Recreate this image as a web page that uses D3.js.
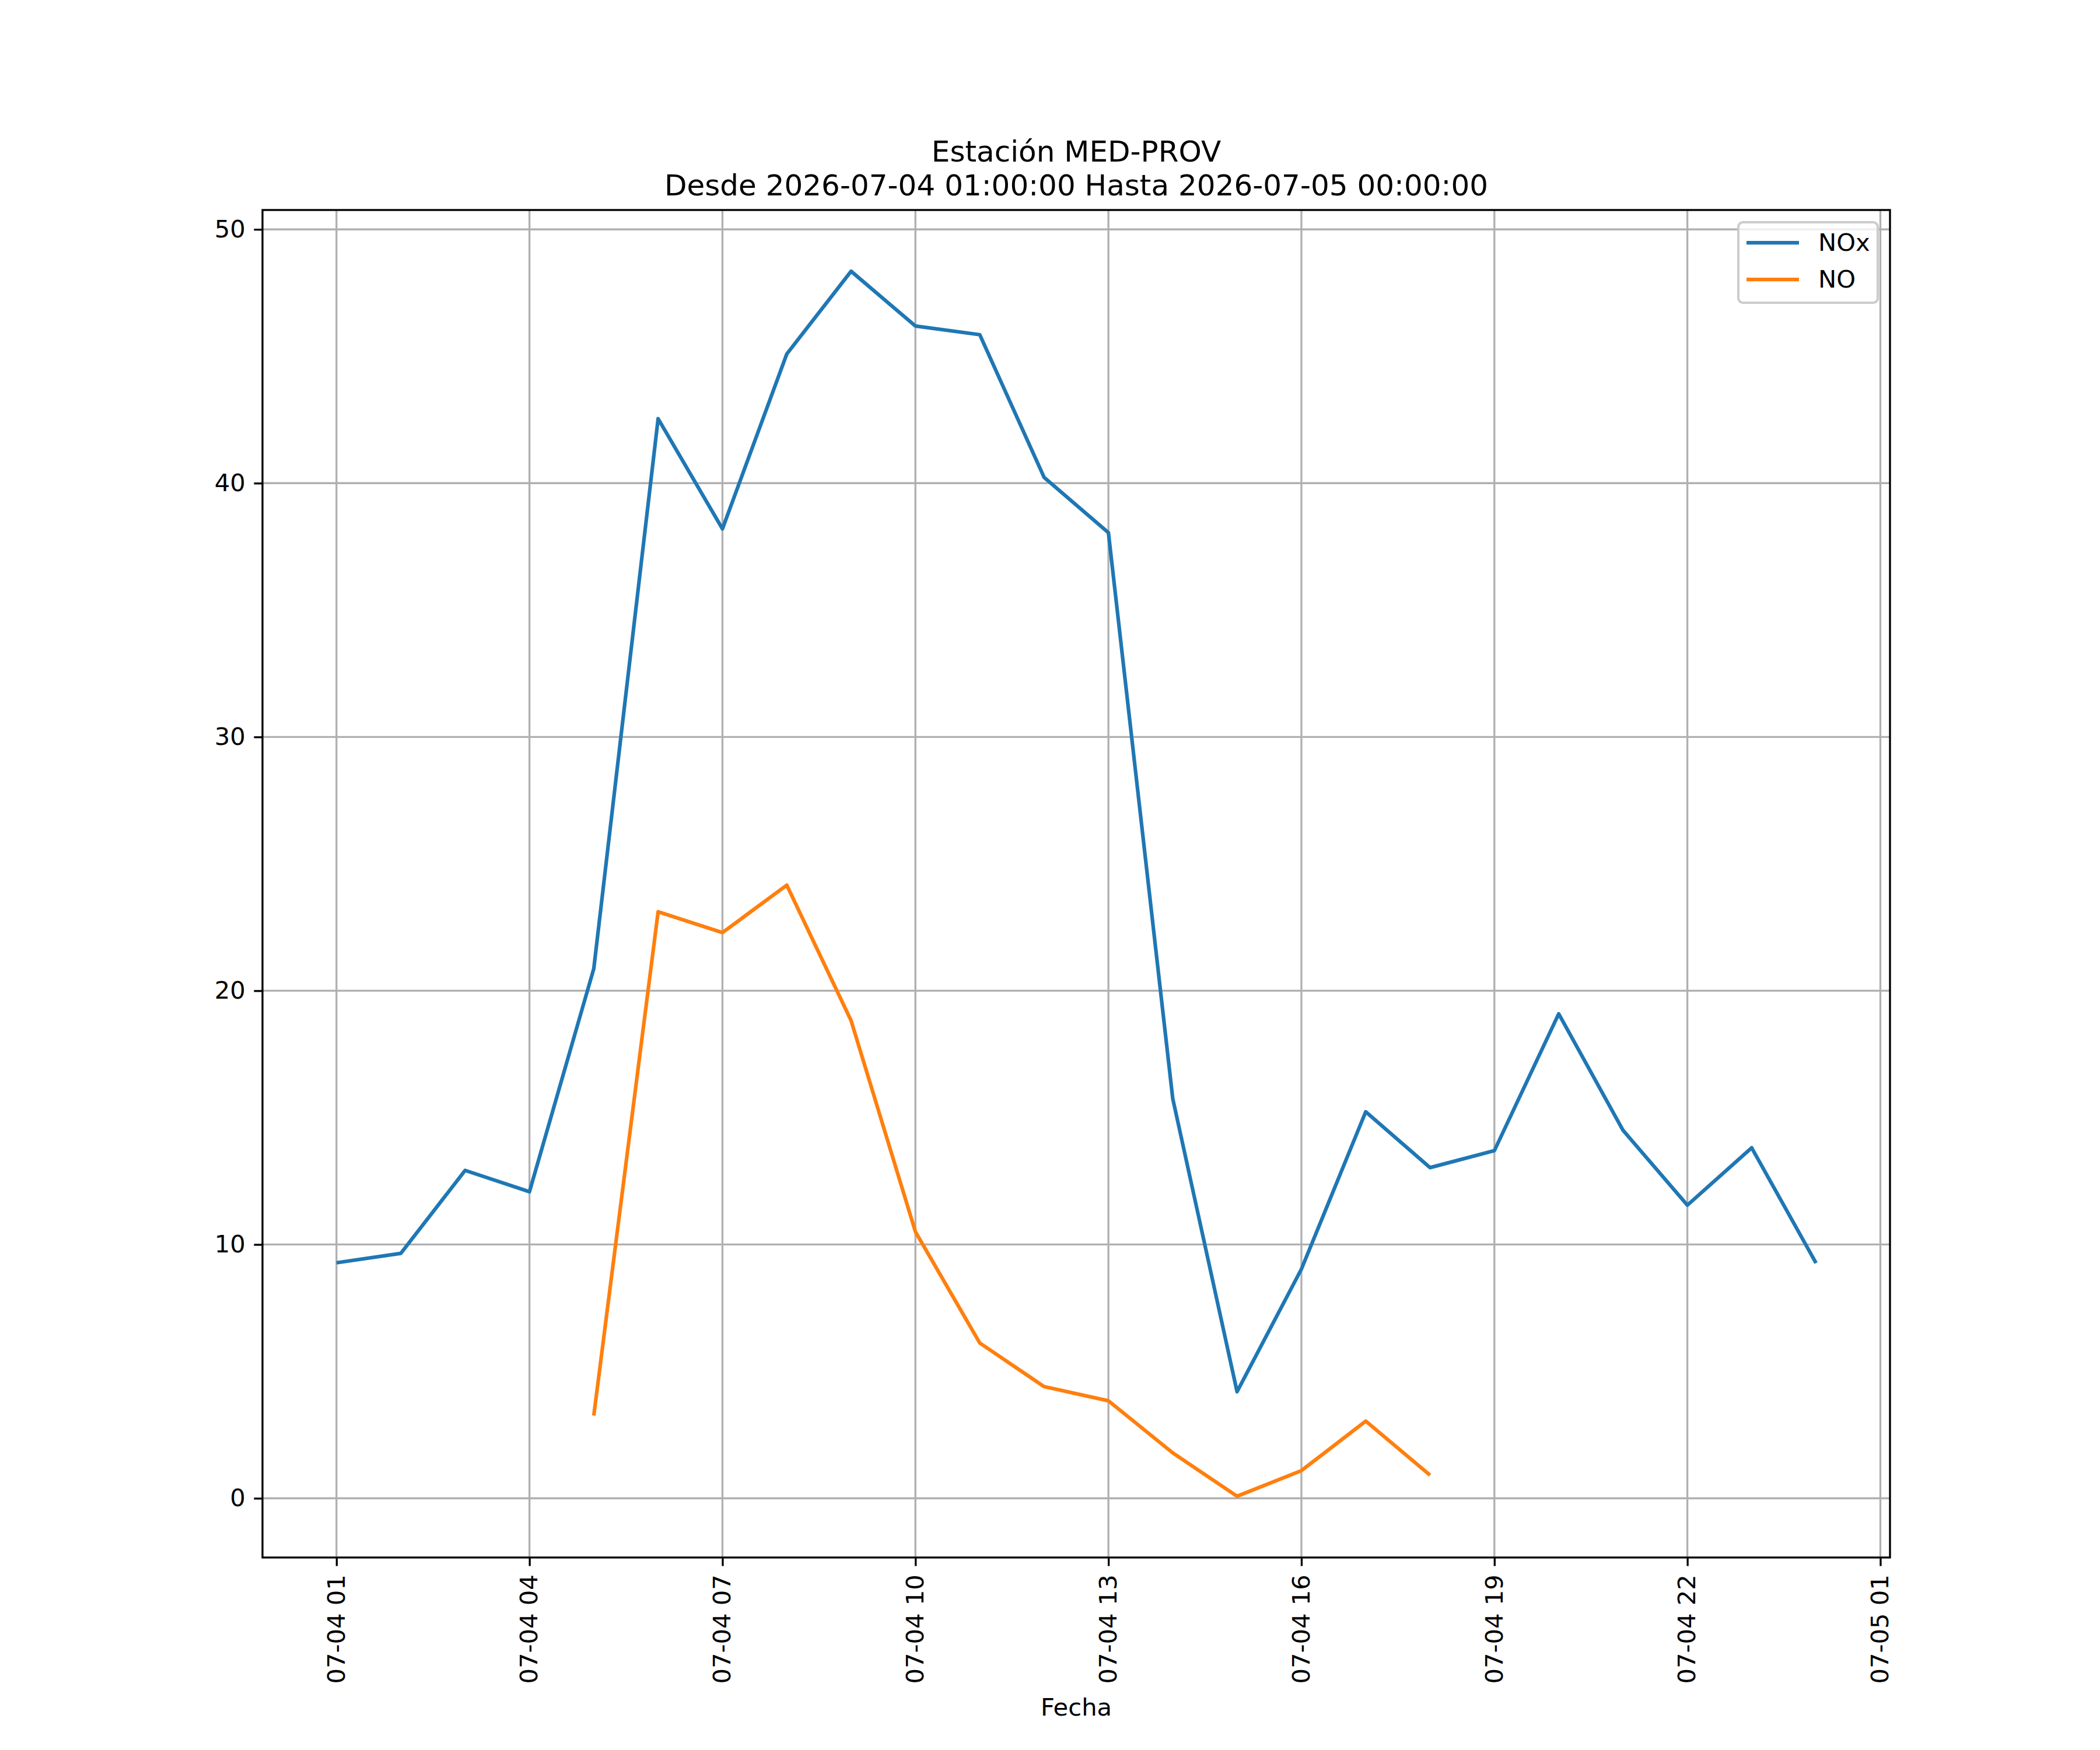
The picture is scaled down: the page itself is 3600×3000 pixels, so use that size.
<!DOCTYPE html>
<html>
<head>
<meta charset="utf-8">
<script src="https://cdn.jsdelivr.net/npm/d3@7"></script>
<style>
    body { margin: 0; background: #fff; }
    text { font-family: "DejaVu Sans", sans-serif; }
</style>
</head>
<body>
<div class="chart-container"></div>
<script>
// hourly readings, MED-PROV station
const hours = [
    '2026-07-04 01:00', '2026-07-04 02:00', '2026-07-04 03:00', '2026-07-04 04:00',
    '2026-07-04 05:00', '2026-07-04 06:00', '2026-07-04 07:00', '2026-07-04 08:00',
    '2026-07-04 09:00', '2026-07-04 10:00', '2026-07-04 11:00', '2026-07-04 12:00',
    '2026-07-04 13:00', '2026-07-04 14:00', '2026-07-04 15:00', '2026-07-04 16:00',
    '2026-07-04 17:00', '2026-07-04 18:00', '2026-07-04 19:00', '2026-07-04 20:00',
    '2026-07-04 21:00', '2026-07-04 22:00', '2026-07-04 23:00', '2026-07-05 00:00'
];
const noxValues = [
    9.28, 9.65, 12.92, 12.08, 20.87, 42.54, 38.2, 45.09,
    48.35, 46.19, 45.85, 40.23, 38.05, 15.75, 4.2, 9.03,
    15.23, 13.03, 13.7, 19.09, 14.5, 11.55, 13.81, 9.27
];
const noValues = [
    null, null, null, null, 3.26, 23.11, 22.29, 24.16,
    18.82, 10.5, 6.12, 4.4, 3.84, 1.79, 0.08, 1.09,
    3.04, 0.91, null, null, null, null, null, null
];
const seriesNames = ['NOx', 'NO'];
const yTicks = [0, 10, 20, 30, 40, 50];
const titleLines = ['Estación MED-PROV', 'Desde 2026-07-04 01:00:00 Hasta 2026-07-05 00:00:00'];
const xLabel = 'Fecha';

const colors = ['#1f77b4', '#ff7f0e'];

// Declare the chart dimensions and margins.
const width = 3600;
const height = 3000;
const marginTop = 360;
const marginRight = 360;
const marginBottom = 330;
const marginLeft = 450;
const fontSize = 41.67;
const tickLen = 14.6;
const tickPad = 14.6;

const parseTime = d3.utcParse('%Y-%m-%d %H:%M');
const times = hours.map(parseTime);
const series = [noxValues, noValues].map((vals, i) => ({
    name: seriesNames[i],
    color: colors[i],
    points: vals.map((v, j) => ({ t: times[j], v: v }))
}));

// 5% padding like the original plot
const tMin = d3.min(times), tMax = d3.max(times);
const tPad = (tMax - tMin) * 0.05;
const allVals = noxValues.concat(noValues).filter(v => v !== null);
const vMin = d3.min(allVals), vMax = d3.max(allVals);
const vPad = (vMax - vMin) * 0.05;

const x = d3.scaleUtc()
    .domain([new Date(+tMin - tPad), new Date(+tMax + tPad)])
    .range([marginLeft, width - marginRight]);

const y = d3.scaleLinear()
    .domain([vMin - vPad, vMax + vPad])
    .range([height - marginBottom, marginTop]);

const xTicks = d3.utcHour.range(tMin, new Date(+tMax + 2 * 3600 * 1000), 3);

// Create the SVG container.
const svg = d3.select('.chart-container').append('svg')
    .attr('width', width)
    .attr('height', height);

// grid
svg.append('g')
    .selectAll('line')
    .data(xTicks)
    .enter()
    .append('line')
    .attr('x1', d => x(d)).attr('x2', d => x(d))
    .attr('y1', marginTop).attr('y2', height - marginBottom)
    .attr('stroke', '#b0b0b0').attr('stroke-width', 3.33);

svg.append('g')
    .selectAll('line')
    .data(yTicks)
    .enter()
    .append('line')
    .attr('x1', marginLeft).attr('x2', width - marginRight)
    .attr('y1', d => y(d)).attr('y2', d => y(d))
    .attr('stroke', '#b0b0b0').attr('stroke-width', 3.33);

// Add the lines.
const line = d3.line()
    .defined(d => d.v !== null)
    .x(d => x(d.t))
    .y(d => y(d.v));

svg.append('g')
    .selectAll('path')
    .data(series)
    .enter()
    .append('path')
    .attr('fill', 'none')
    .attr('stroke', d => d.color)
    .attr('stroke-width', 6.25)
    .attr('stroke-linejoin', 'round')
    .attr('stroke-linecap', 'butt')
    .attr('d', d => line(d.points));

// spines
svg.append('rect')
    .attr('x', marginLeft).attr('y', marginTop)
    .attr('width', width - marginLeft - marginRight)
    .attr('height', height - marginTop - marginBottom)
    .attr('fill', 'none').attr('stroke', '#000').attr('stroke-width', 3.33);

// Add the x-axis.
const xAxis = svg.append('g')
    .attr('transform', `translate(0,${height - marginBottom})`)
    .call(d3.axisBottom(x).tickValues(xTicks).tickFormat(d3.utcFormat('%m-%d %H'))
        .tickSize(tickLen).tickPadding(tickPad).tickSizeOuter(0));
xAxis.select('.domain').remove();
xAxis.selectAll('.tick line').attr('stroke', '#000').attr('stroke-width', 3.33);
xAxis.selectAll('.tick text')
    .attr('fill', '#000')
    .attr('font-size', fontSize)
    .attr('font-family', 'DejaVu Sans')
    .attr('text-anchor', 'end')
    .attr('x', -(tickLen + tickPad))
    .attr('y', 0)
    .attr('dy', '0.32em')
    .attr('transform', 'rotate(-90)');

// Add the y-axis.
const yAxis = svg.append('g')
    .attr('transform', `translate(${marginLeft},0)`)
    .call(d3.axisLeft(y).tickValues(yTicks).tickFormat(d3.format('d'))
        .tickSize(tickLen).tickPadding(tickPad).tickSizeOuter(0));
yAxis.select('.domain').remove();
yAxis.selectAll('.tick line').attr('stroke', '#000').attr('stroke-width', 3.33);
yAxis.selectAll('.tick text')
    .attr('fill', '#000')
    .attr('font-size', fontSize)
    .attr('font-family', 'DejaVu Sans');

// x label
svg.append('text')
    .attr('x', (marginLeft + width - marginRight) / 2)
    .attr('y', 2941)
    .attr('text-anchor', 'middle')
    .attr('font-size', fontSize)
    .text(xLabel);

// title
svg.append('g')
    .selectAll('text')
    .data(titleLines)
    .enter()
    .append('text')
    .attr('x', (marginLeft + width - marginRight) / 2)
    .attr('y', (d, i) => 277 + i * 58)
    .attr('text-anchor', 'middle')
    .attr('font-size', 50)
    .text(d => d);

//Add Legend
const legend = svg.append('g')
    .attr('id', 'legend');

legend.append('rect')
    .attr('x', 2980).attr('y', 381)
    .attr('width', 239).attr('height', 138)
    .attr('rx', 8).attr('ry', 8)
    .attr('fill', '#fff').attr('fill-opacity', 0.8)
    .attr('stroke', '#cccccc').attr('stroke-width', 4.17);

const items = legend.selectAll('g.item')
    .data(series)
    .enter()
    .append('g')
    .attr('class', 'item')
    .attr('transform', (d, i) => `translate(0,${i * 63})`);

items.append('line')
    .attr('x1', 2994).attr('x2', 3084)
    .attr('y1', 416).attr('y2', 416)
    .attr('stroke', d => d.color)
    .attr('stroke-width', 6.25);

items.append('text')
    .attr('x', 3117)
    .attr('y', 430)
    .attr('font-size', fontSize)
    .text(d => d.name);
</script>
</body>
</html>
